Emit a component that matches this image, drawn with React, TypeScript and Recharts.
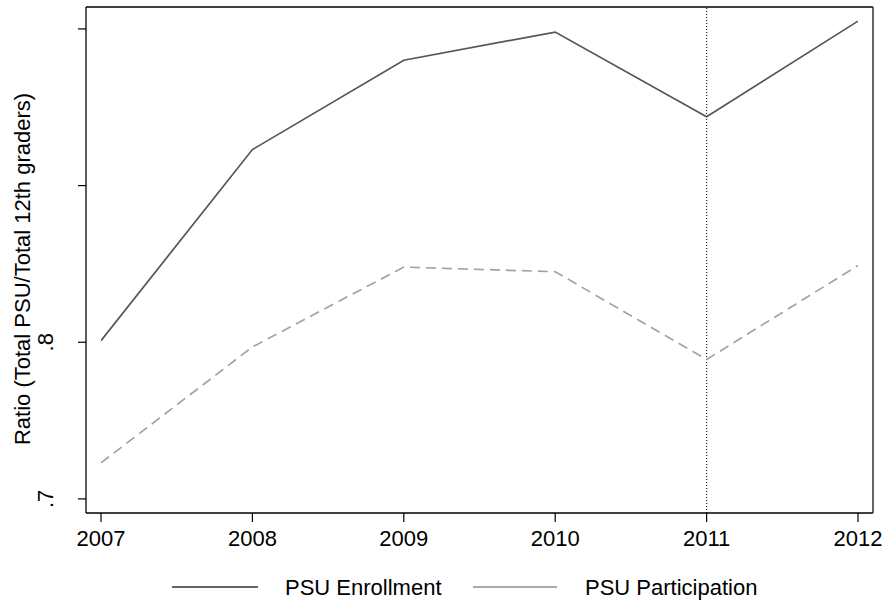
import React from "react";
import {
  LineChart,
  Line,
  XAxis,
  YAxis,
  ReferenceLine,
  Legend,
} from "recharts";

const years = [2007, 2008, 2009, 2010, 2011, 2012];
const enrollment = [0.801, 0.923, 0.98, 0.998, 0.944, 1.005];
const participation = [0.723, 0.797, 0.848, 0.845, 0.789, 0.849];
const yTicks = [0.7, 0.8, 0.9, 1.0];
const yLabeled = [0.7, 0.8];
const seriesNames = ["PSU Enrollment", "PSU Participation"];
const yTitle = "Ratio (Total PSU/Total 12th graders)";
const markerYear = 2011;

const data = years.map((y, i) => ({
  year: y,
  enrollment: enrollment[i],
  participation: participation[i],
}));

const FONT = '"Liberation Sans", Arial, Helvetica, sans-serif';

const fmtY = (v: number) => v.toFixed(1).replace(/^0/, "");

const XTick = (props: any) => {
  const { x, y, payload } = props;
  return (
    <text
      x={x}
      y={y + 22}
      textAnchor="middle"
      fontFamily={FONT}
      fontSize={22}
      fill="#000"
    >
      {payload.value}
    </text>
  );
};

const YTick = (props: any) => {
  const { x, y, payload } = props;
  const v = Number(payload.value);
  if (!yLabeled.some((t) => Math.abs(t - v) < 1e-6)) return <g />;
  const bx = x - 23;
  return (
    <text
      x={bx}
      y={y}
      transform={`rotate(-90, ${bx}, ${y})`}
      textAnchor="middle"
      fontFamily={FONT}
      fontSize={22}
      fill="#000"
    >
      {fmtY(v)}
    </text>
  );
};

const YTitle = () => (
  <text
    x={30}
    y={269}
    transform="rotate(-90, 30, 269)"
    textAnchor="middle"
    fontFamily={FONT}
    fontSize={22}
    fill="#000"
  >
    {yTitle}
  </text>
);

const LegendContent = () => (
  <svg width={885} height={35} style={{ display: "block" }}>
    <line x1={172} x2={258} y1={17} y2={17} stroke="#666" strokeWidth={2} />
    <text x={285} y={25} fontFamily={FONT} fontSize={22} fill="#000">
      {seriesNames[0]}
    </text>
    <line x1={473} x2={557} y1={17} y2={17} stroke="#aaa" strokeWidth={2} />
    <text x={585} y={25} fontFamily={FONT} fontSize={22} fill="#000">
      {seriesNames[1]}
    </text>
  </svg>
);

export default function App() {
  return (
    <div style={{ position: "absolute", left: 0, top: 0, background: "#fff" }}>
      <LineChart
        width={885}
        height={603}
        data={data}
        margin={{ top: 6, right: 11, bottom: 0, left: 0 }}
      >
        <XAxis
          dataKey="year"
          type="number"
          domain={[2007, 2012]}
          ticks={years}
          padding={{ left: 15, right: 15 }}
          height={90}
          tickSize={9}
          tick={<XTick />}
          axisLine={{ stroke: "#000", strokeWidth: 1.3 }}
          tickLine={{ stroke: "#000", strokeWidth: 1.2 }}
          allowDataOverflow
        />
        <XAxis
          xAxisId="top"
          orientation="top"
          dataKey="year"
          type="number"
          domain={[2007, 2012]}
          ticks={years}
          height={1}
          tick={false}
          tickLine={false}
          axisLine={{ stroke: "#000", strokeWidth: 1.3 }}
        />
        <YAxis
          type="number"
          domain={[0.691, 1.014]}
          ticks={yTicks}
          width={86}
          tickSize={8}
          tick={<YTick />}
          axisLine={{ stroke: "#000", strokeWidth: 1.3 }}
          tickLine={{ stroke: "#000", strokeWidth: 1.2 }}
          allowDataOverflow
          label={{ content: () => <YTitle /> }}
        />
        <YAxis
          yAxisId="right"
          orientation="right"
          type="number"
          domain={[0.691, 1.014]}
          ticks={yTicks}
          width={1}
          tick={false}
          tickLine={false}
          axisLine={{ stroke: "#333", strokeWidth: 1.5 }}
        />
        <ReferenceLine
          x={markerYear}
          stroke="#222"
          strokeWidth={1.2}
          strokeDasharray="1 2"
        />
        <Line
          type="linear"
          dataKey="enrollment"
          name={seriesNames[0]}
          stroke="#555"
          strokeWidth={1.7}
          dot={false}
          isAnimationActive={false}
        />
        <Line
          type="linear"
          dataKey="participation"
          name={seriesNames[1]}
          stroke="#a3a3a3"
          strokeWidth={1.7}
          strokeDasharray="10 6"
          dot={false}
          isAnimationActive={false}
        />
        <Legend
          layout="horizontal"
          verticalAlign="middle"
          align="center"
          wrapperStyle={{ top: 570, left: 0, width: 885, height: 35 }}
          content={() => <LegendContent />}
        />
      </LineChart>
    </div>
  );
}
